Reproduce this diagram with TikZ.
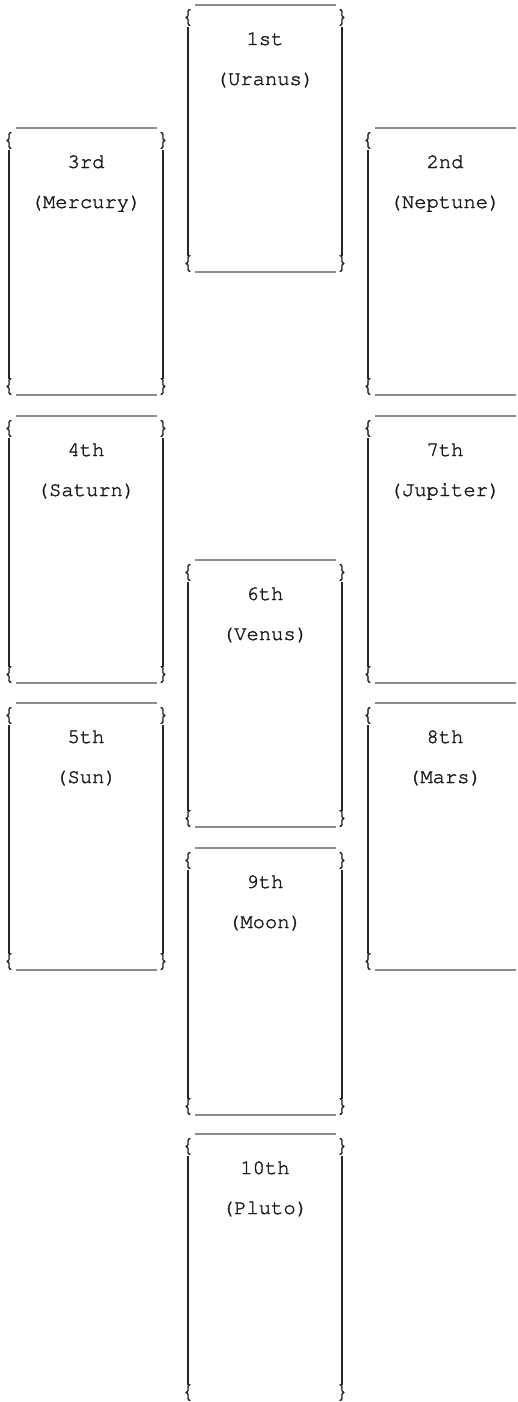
\documentclass[tikz,border=0pt]{standalone}
\usepackage[T1]{fontenc}
\usepackage{courier}
\newcommand{\fattext}[1]{\special{pdf:code 2 Tr 0.35 w}#1\special{pdf:code 0 Tr}}
% #1 name, #2 left x, #3 top y, #4 ordinal, #5 planet, #6 bottom rule (1/0), #7 right side (1/0)
\newcommand{\housecard}[7]{%
  \node[bracechar] (#1-lb1) at ({#2},{#3+18}) {\fattext{\{}};
  \node[bracechar] (#1-lb2) at ({#2},{#3+264}) {\fattext{\{}};
  \coordinate (#1-ot1) at ({#2+7},{#3});
  \coordinate (#1-ot2) at ({#2+148},{#3});
  \draw[hrule] (#1-ot1) -- (#1-ot2);
  \coordinate (#1-l1) at ({#2},{#3+22});
  \coordinate (#1-l2) at ({#2},{#3+251});
  \draw[vbar] (#1-l1) -- (#1-l2);
  \ifnum#7=1
    \node[bracechar] (#1-rb1) at ({#2+154},{#3+18}) {\fattext{\}}};
    \node[bracechar] (#1-rb2) at ({#2+154},{#3+264}) {\fattext{\}}};
    \coordinate (#1-r1) at ({#2+154},{#3+22});
    \coordinate (#1-r2) at ({#2+154},{#3+251});
    \draw[vbar] (#1-r1) -- (#1-r2);
  \fi
  \node[cardtext] (#1-n) at ({#2+77},{#3+40}) {\fattext{#4}};
  \node[cardtext] (#1-p) at ({#2+77},{#3+80}) {\fattext{#5}};
  \ifnum#6=1
    \coordinate (#1-ub1) at ({#2+7},{#3+267});
    \coordinate (#1-ub2) at ({#2+148},{#3+267});
    \draw[hrule] (#1-ub1) -- (#1-ub2);
  \fi
}
\begin{document}
\begin{tikzpicture}[x=1pt,y=-1pt,
  vbar/.style={line width=1.3pt, black!85},
  hrule/.style={line width=1.2pt, black!45},
  bracechar/.style={font=\ttfamily\fontsize{23}{23}\selectfont, inner sep=0pt, anchor=base, text=black!85},
  cardtext/.style={font=\ttfamily\fontsize{20.5}{20.5}\selectfont, inner sep=0pt, anchor=base, text=black!90}]
\useasboundingbox (0,0) rectangle (518,1402);
\clip (0,0) rectangle (518,1402);
\housecard{h1}{188}{5}{1st}{(Uranus)}{1}{1}
\housecard{h2}{368}{128}{2nd}{(Neptune)}{1}{0}
\housecard{h3}{9}{128}{3rd}{(Mercury)}{1}{1}
\housecard{h4}{9}{416}{4th}{(Saturn)}{1}{1}
\housecard{h7}{368}{416}{7th}{(Jupiter)}{1}{0}
\housecard{h6}{188}{560}{6th}{(Venus)}{1}{1}
\housecard{h5}{9}{703}{5th}{(Sun)}{1}{1}
\housecard{h8}{368}{703}{8th}{(Mars)}{1}{0}
\housecard{h9}{188}{848}{9th}{(Moon)}{1}{1}
\housecard{h10}{188}{1134}{10th}{(Pluto)}{0}{1}
\end{tikzpicture}
\end{document}
